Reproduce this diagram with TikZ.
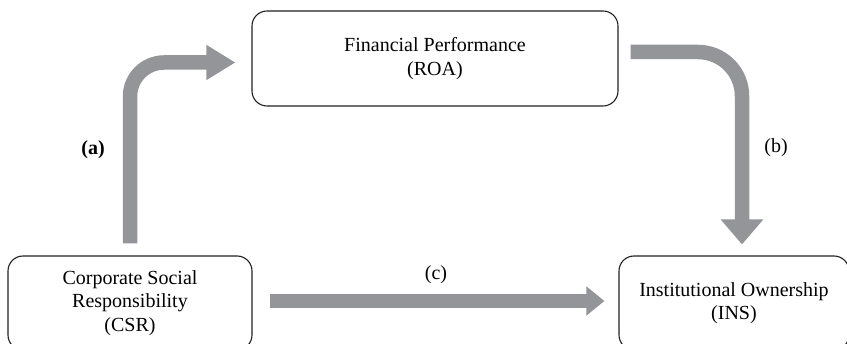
\documentclass[tikz,border=0pt]{standalone}
\usepackage{fontspec}
\setmainfont{Liberation Serif}
\usetikzlibrary{arrows.meta}
\definecolor{arrowgray}{HTML}{939598}
\definecolor{boxline}{HTML}{231F20}
\begin{document}
\begin{tikzpicture}[x=1pt,y=-1pt,
  box/.style={draw=boxline,line width=1.1pt,rounded corners=15pt,align=center,
    font=\fontsize{20}{23.5}\selectfont,inner sep=0pt},
  lab/.style={font=\fontsize{20}{23.5}\selectfont},
  fatarrow/.style={draw=arrowgray,line width=14.5pt,rounded corners=#1}]
\useasboundingbox (0,0) rectangle (847,344);
\clip (0,0) rectangle (847,344);
\fill[white] (0,0) rectangle (847,344);
\node[box,minimum width=366pt,minimum height=95pt] (fin) at (435,58.5)
  {Financial Performance\\(ROA)};
\node[box,minimum width=244pt,minimum height=94pt] (csr) at (130,303)
  {Corporate Social\\Responsibility\\(CSR)};
\node[box,minimum width=230pt,minimum height=94pt] (ins) at (734,303)
  {Institutional Ownership\\(INS)};
% (a)
\coordinate (aStart) at ([yshift=12pt]csr.north);
\coordinate (aEnd) at ([xshift=-16pt,yshift=-4pt]fin.west);
\draw[fatarrow=34pt,-{Triangle[width=33pt,length=29pt]}] (aStart) |- (aEnd);
% (b)
\coordinate (bStart) at ([xshift=12pt,yshift=6.5pt]fin.east);
\coordinate (bEnd) at ([xshift=8pt,yshift=11pt]ins.north);
\draw[fatarrow=44pt,-{Triangle[width=41pt,length=25pt]}] (bStart) -| (bEnd);
% (c)
\coordinate (cStart) at ([xshift=17pt,yshift=2pt]csr.east);
\coordinate (cEnd) at ([xshift=-14pt,yshift=2pt]ins.west);
\draw[fatarrow=0pt,-{Triangle[width=28pt,length=18pt]}] (cStart) -- (cEnd);
\node[lab,font=\fontsize{20}{23.5}\selectfont\bfseries] (la) at (93,150) {(a)};
\node[lab] (lb) at (776,148) {(b)};
\node[lab] (lc) at (436,275) {(c)};
\end{tikzpicture}
\end{document}
